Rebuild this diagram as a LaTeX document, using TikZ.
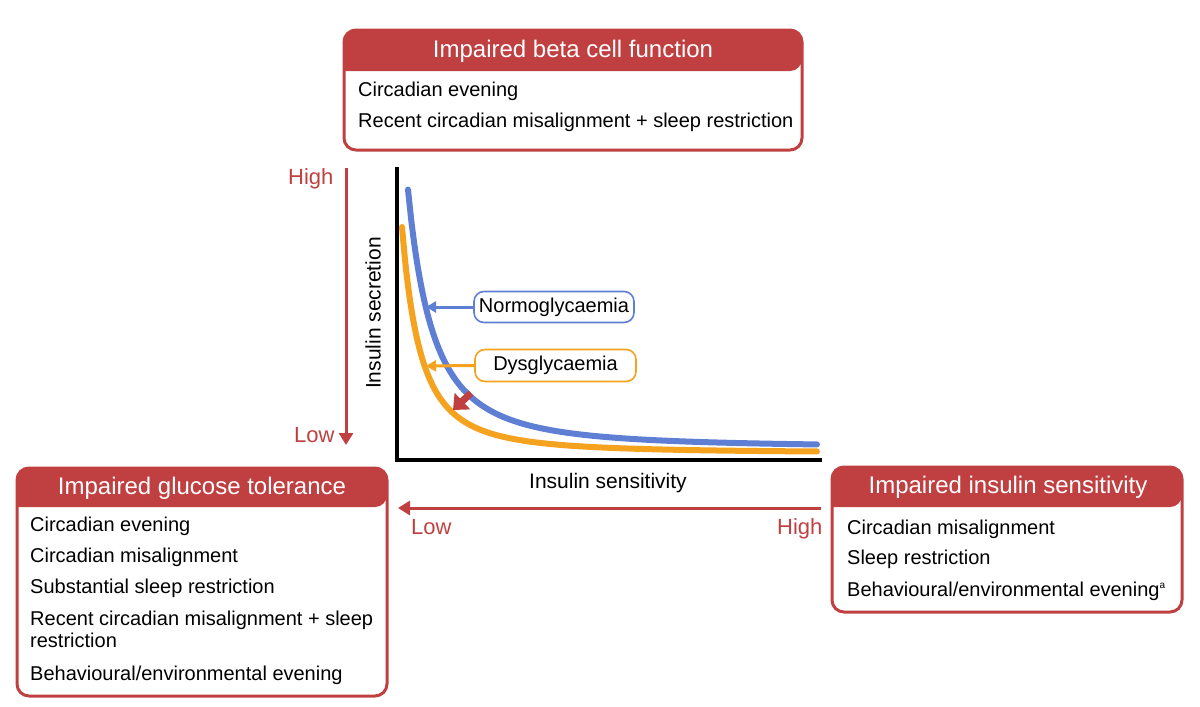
\documentclass[tikz,border=0pt]{standalone}
\usepackage{fontspec}
\setmainfont{Liberation Sans}
\usetikzlibrary{arrows.meta}
\definecolor{hdred}{HTML}{C04041}
\definecolor{cblue}{HTML}{5E7FD4}
\definecolor{corange}{HTML}{F5A21F}
\tikzset{
  boxframe/.style={draw=hdred,line width=3pt,rounded corners=12pt,fill=white},
  hdtitle/.style={anchor=base,text=white,font=\fontsize{24}{24}\selectfont,inner sep=0pt},
  bodytxt/.style={anchor=base west,font=\fontsize{20}{20}\selectfont,inner sep=0pt},
  redlbl/.style={anchor=base west,text=hdred,font=\fontsize{22}{22}\selectfont,inner sep=0pt},
  axlbl/.style={font=\fontsize{21}{21}\selectfont,inner sep=0pt},
  redarrow/.style={draw=hdred,line width=3pt,-{Triangle[width=14pt,length=12pt]}},
  curve/.style={line width=6pt,line cap=round},
  tagbox/.style={draw,line width=1.6pt,rounded corners=10pt,fill=white,font=\fontsize{20}{20}\selectfont,inner sep=0pt},
}
\begin{document}
\begin{tikzpicture}[x=1pt,y=-1pt]
\useasboundingbox (0,0) rectangle (1200,707);
% ---------- top box ----------
\draw[boxframe] (344,30) rectangle (802,150);
\fill[hdred,rounded corners=12pt] (344,71) -- (344,30) -- (802,30) -- (802,71) [sharp corners]-- cycle;
\node[hdtitle] (ttop) at (573,57) {Impaired beta cell function};
\node[bodytxt] (t1) at (358,96) {Circadian evening};
\node[bodytxt] (t2) at (358,127) {Recent circadian misalignment + sleep restriction};
% ---------- left box ----------
\draw[boxframe] (17,468) rectangle (387,696);
\fill[hdred,rounded corners=12pt] (17,507) -- (17,468) -- (387,468) -- (387,507) [sharp corners]-- cycle;
\node[hdtitle] (tleft) at (202,494) {Impaired glucose tolerance};
\node[bodytxt] (l1) at (30,531) {Circadian evening};
\node[bodytxt] (l2) at (30,562) {Circadian misalignment};
\node[bodytxt] (l3) at (30,593) {Substantial sleep restriction};
\node[bodytxt] (l4) at (30,625) {Recent circadian misalignment + sleep};
\node[bodytxt] (l5) at (30,647) {restriction};
\node[bodytxt] (l6) at (30,680) {Behavioural/environmental evening};
% ---------- right box ----------
\draw[boxframe] (832,467) rectangle (1182,612);
\fill[hdred,rounded corners=12pt] (832,507) -- (832,467) -- (1182,467) -- (1182,507) [sharp corners]-- cycle;
\node[hdtitle] (tright) at (1008,493) {Impaired insulin sensitivity};
\node[bodytxt] (r1) at (847,534) {Circadian misalignment};
\node[bodytxt] (r2) at (847,564) {Sleep restriction};
\node[bodytxt] (r3) at (847,596) {Behavioural/environmental evening\textsuperscript{\fontsize{10}{10}\selectfont a}};
% ---------- axes ----------
\coordinate (orig) at (397,460);
\coordinate (ytop) at (397,167);
\coordinate (xend) at (822,460);
\draw[line width=3.5pt] (ytop) -- (orig) -- (xend);
\node[axlbl,rotate=90] (ylab) at (373,313) {Insulin secretion};
\node[axlbl,anchor=base] (xlab) at (608,488) {Insulin sensitivity};
% ---------- curves ----------
\draw[curve,corange] plot[domain=402:817,samples=120,smooth] (\x,{453-3094/(((\x-365)/10)^2)});
\draw[curve,cblue] plot[domain=408:817,samples=120,smooth] (\x,{447.5-6450/(((\x-358)/10)^2)});
% ---------- tags ----------
\node[tagbox,draw=cblue,minimum width=160pt,minimum height=31pt] (normo) at (554,307) {Normoglycaemia};
\node[tagbox,draw=corange,minimum width=161pt,minimum height=32pt] (dysg) at (555.5,365.5) {Dysglycaemia};
\coordinate (nt) at (426,307);
\coordinate (dt) at (426,366);
\draw[cblue,line width=3pt,-{Triangle[width=11pt,length=10pt]}] (normo.west) -- (nt);
\draw[corange,line width=3pt,-{Triangle[width=11pt,length=10pt]}] (dysg.west) -- (dt);
% ---------- shift arrow ----------
\coordinate (sa) at (471,393);
\coordinate (sb) at (453,410);
\draw[hdred,line width=7pt,-{Triangle[width=22pt,length=13pt]}] (sa) -- (sb);
% ---------- direction arrows ----------
\coordinate (va) at (346,168);
\coordinate (vb) at (346,445);
\draw[redarrow] (va) -- (vb);
\node[redlbl] (vhigh) at (288,184) {High};
\node[redlbl] (vlow) at (294,442) {Low};
\coordinate (ha) at (821,508);
\coordinate (hb) at (398,508);
\draw[redarrow] (ha) -- (hb);
\node[redlbl] (hlow) at (411,534) {Low};
\node[redlbl] (hhigh) at (777,534) {High};
\end{tikzpicture}
\end{document}
